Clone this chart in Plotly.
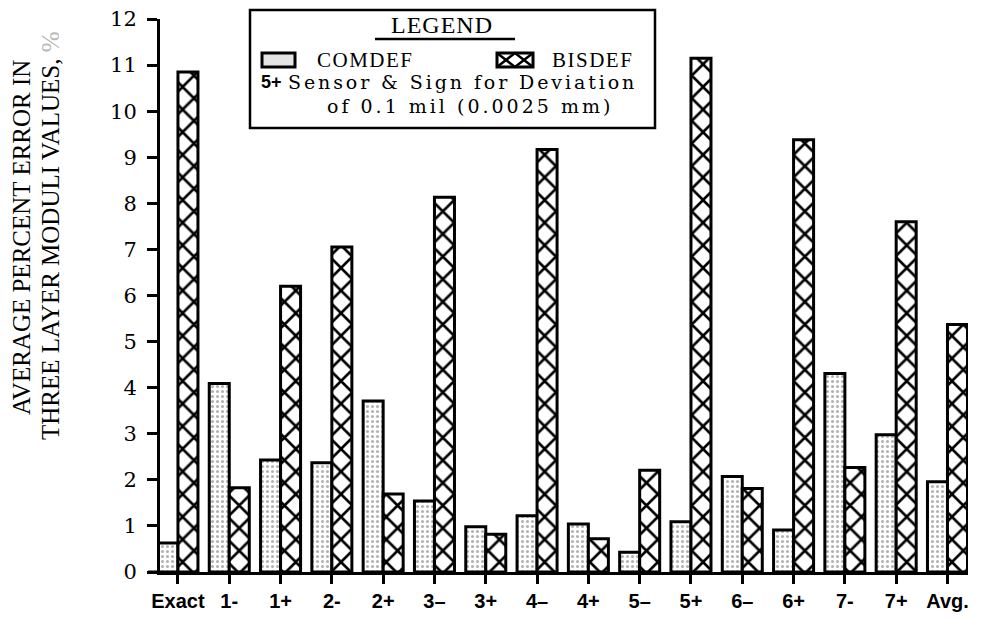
import plotly.graph_objects as go

categories = ["Exact", "1-", "1+", "2-", "2+", "3–", "3+", "4–",
              "4+", "5–", "5+", "6–", "6+", "7-", "7+", "Avg."]
comdef = [0.63, 4.09, 2.43, 2.37, 3.71, 1.54, 0.98, 1.22,
          1.04, 0.43, 1.09, 2.07, 0.91, 4.31, 2.98, 1.96]
bisdef = [10.85, 1.83, 6.20, 7.05, 1.69, 8.13, 0.82, 9.17,
          0.72, 2.21, 11.15, 1.81, 9.38, 2.27, 7.60, 5.37]
y_ticks = list(range(0, 13))

W, H = 987, 621
L, R, T, B = 160, 968, 19, 572


def px(x):
    return (x - L) / (R - L)


def py(y):
    return (B - y) / (B - T)


fig = go.Figure()
fig.add_trace(go.Bar(
    x=categories, y=comdef, name="COMDEF",
    marker=dict(color="white", line=dict(color="black", width=3),
                pattern=dict(shape=".", size=5, solidity=0.3,
                             fgcolor="#666666", bgcolor="white")),
))
fig.add_trace(go.Bar(
    x=categories, y=bisdef, name="BISDEF",
    marker=dict(color="white", line=dict(color="black", width=3),
                pattern=dict(shape="x", size=16, solidity=0.3,
                             fgcolor="black", fgopacity=1, bgcolor="white")),
))

shapes = []
annotations = []

shapes.append(dict(type="line", xref="paper", yref="paper",
                   x0=px(148), x1=px(160), y0=0, y1=0,
                   line=dict(color="black", width=3)))

shapes.append(dict(type="rect", xref="paper", yref="paper",
                   x0=px(250), x1=px(655), y0=py(128), y1=py(10),
                   line=dict(color="black", width=2.5), fillcolor="white",
                   layer="above"))
shapes.append(dict(type="line", xref="paper", yref="paper",
                   x0=px(375), x1=px(515), y0=py(39), y1=py(39),
                   line=dict(color="black", width=2.5)))
shapes.append(dict(type="rect", xref="paper", yref="paper",
                   x0=px(262), x1=px(295), y0=py(67), y1=py(53),
                   line=dict(color="black", width=3), fillcolor="#e4e4e4",
                   layer="above"))
shapes.append(dict(type="rect", xref="paper", yref="paper",
                   x0=px(497), x1=px(533), y0=py(67), y1=py(53),
                   line=dict(color="black", width=3), fillcolor="white",
                   layer="above"))
for (xa, ya), (xb, yb), (xc, yc) in [
        ((497, 53), (515, 67), (533, 53)),
        ((497, 67), (515, 53), (533, 67))]:
    shapes.append(dict(type="path", xref="paper", yref="paper",
                       path=f"M{px(xa)},{py(ya)} L{px(xb)},{py(yb)} L{px(xc)},{py(yc)}",
                       line=dict(color="black", width=2.5), layer="above"))

serif = "Liberation Serif"


def spaced(s, sp):
    return f'<span style="letter-spacing:{sp}px">{s}</span>'


annotations += [
    dict(text=spaced("LEGEND", 1), x=px(442), y=py(25), xref="paper", yref="paper",
         showarrow=False, xanchor="center", yanchor="middle",
         font=dict(family=serif, size=24, color="black")),
    dict(text=spaced("COMDEF", 1.5), x=px(315), y=py(60), xref="paper", yref="paper",
         showarrow=False, xanchor="left", yanchor="middle",
         font=dict(family=serif, size=21, color="black")),
    dict(text=spaced("BISDEF", 1.5), x=px(550), y=py(60), xref="paper", yref="paper",
         showarrow=False, xanchor="left", yanchor="middle",
         font=dict(family=serif, size=21, color="black")),
    dict(text="<b>5+</b>", x=px(259), y=py(82), xref="paper", yref="paper",
         showarrow=False, xanchor="left", yanchor="middle",
         font=dict(family="Liberation Sans", size=18, color="black")),
    dict(text=spaced("Sensor & Sign for Deviation", 2.9), x=px(286), y=py(82),
         xref="paper", yref="paper", showarrow=False, xanchor="left",
         yanchor="middle",
         font=dict(family="DejaVu Serif", size=19, color="black")),
    dict(text=spaced("of 0.1 mil (0.0025 mm)", 3.0), x=px(470), y=py(106),
         xref="paper", yref="paper", showarrow=False, xanchor="center",
         yanchor="middle",
         font=dict(family="DejaVu Serif", size=19, color="black")),
    dict(text="AVERAGE PERCENT ERROR IN", x=px(22), y=py(238),
         xref="paper", yref="paper", showarrow=False, textangle=-90,
         xanchor="center", yanchor="middle",
         font=dict(family=serif, size=25, color="black")),
    dict(text='THREE LAYER MODULI VALUES, <span style="color:#b8b8b8">%</span>',
         x=px(50), y=py(236), xref="paper", yref="paper", showarrow=False,
         textangle=-90, xanchor="center", yanchor="middle",
         font=dict(family=serif, size=25, color="black")),
]

fig.update_layout(
    width=W, height=H,
    margin=dict(l=L, r=W - R, t=T, b=H - B, autoexpand=False),
    paper_bgcolor="white", plot_bgcolor="white",
    barmode="group", bargap=0.22, bargroupgap=0,
    showlegend=False,
    shapes=shapes, annotations=annotations,
    xaxis=dict(type="category", range=[-0.35, 15.4], automargin=False,
               showline=True, linecolor="black", linewidth=3,
               ticks="outside", ticklen=9, tickwidth=2.5, tickcolor="black",
               showgrid=False, zeroline=False,
               tickfont=dict(family="Liberation Sans", size=20,
                             color="black", weight="bold")),
    yaxis=dict(range=[0, 12], tickvals=y_ticks, automargin=False,
               showline=True, linecolor="black", linewidth=3,
               ticks="outside", ticklen=10, tickwidth=2.5, tickcolor="black",
               showgrid=False, zeroline=False, ticklabelstandoff=6,
               tickfont=dict(family="DejaVu Serif", size=21, color="black")),
)

fig.write_html(
    "out.html",
    config={"displayModeBar": False},
    post_script="document.body.style.margin='0';document.body.style.overflow='hidden';",
)
